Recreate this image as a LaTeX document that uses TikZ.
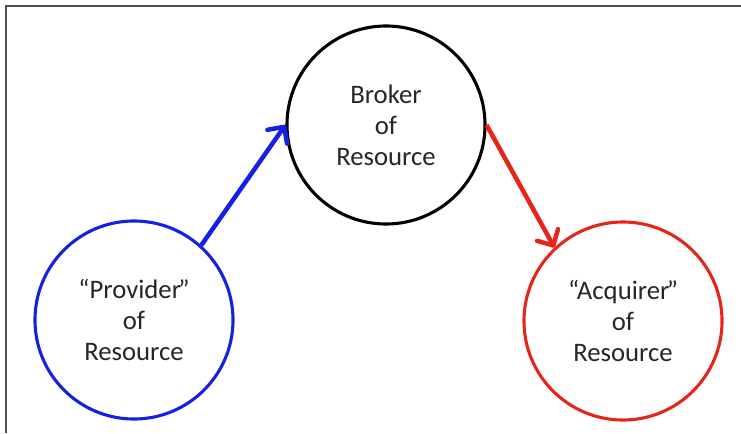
\documentclass[tikz,border=0pt]{standalone}
\usepackage{fontspec}
\setmainfont{Carlito}
\usetikzlibrary{arrows.meta}
\definecolor{provblue}{RGB}{22,32,228}
\definecolor{acqred}{RGB}{230,36,26}
\definecolor{framegray}{RGB}{80,80,80}

\begin{document}
\begin{tikzpicture}[x=0.025cm, y=-0.025cm,
    % role circles and the flows between them
    rolenode/.style={circle, line width=2.2pt, draw=#1, minimum size=4.95cm, inner sep=0pt,
        align=center, text=black!85, font=\fontsize{19}{22}\selectfont},
    roleflow/.style={line width=3.2pt, draw=#1, -{Straight Barb[length=3mm, width=6mm, round]}}
]
    \useasboundingbox (0,0) rectangle (741,433);
    % frame
    \draw [framegray, line width=1.5pt] (6,433) -- (6,6) -- (741,6);

    % the three roles
    \node [rolenode=black] (broker) at (386,125) {Broker\\of\\Resource};
    \node [rolenode=provblue] (provider) at (134,320) {“Provider\kern-0.1em”\\of\\Resource};
    \node [rolenode=acqred] (acquirer) at (623,321) {“Acquirer\kern-0.1em”\\of\\Resource};

    % flows
    \draw [roleflow=provblue] (provider.48) -- (broker.west);
    \draw [roleflow=acqred] (broker.east) -- (acquirer.133);
\end{tikzpicture}
\end{document}
